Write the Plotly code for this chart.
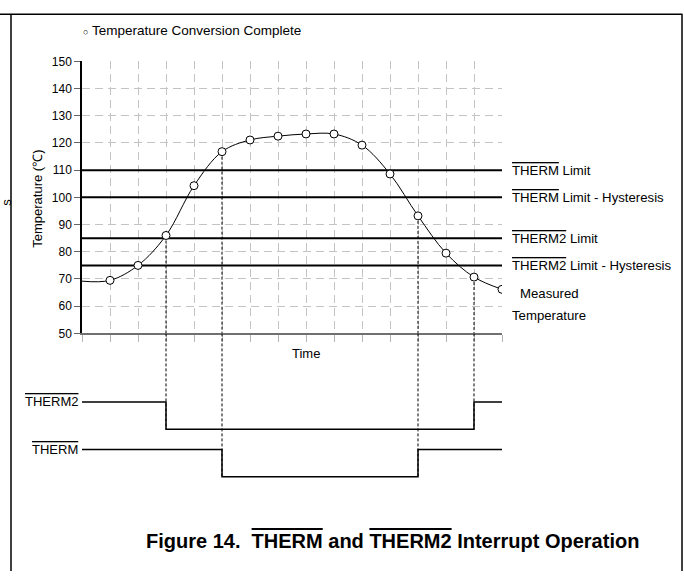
import plotly.graph_objects as go

# ---------------- data ----------------
time = list(range(16))
temperature = [69.2, 69.5, 75.0, 86.0, 104.3, 116.8, 121.1, 122.5, 123.3,
               123.3, 119.2, 108.6, 93.2, 79.5, 70.7, 66.2]
conversion_time = time[1:]
conversion_temp = temperature[1:]

limit_names = ["THERM Limit", "THERM Limit - Hysteresis",
               "THERM2 Limit", "THERM2 Limit - Hysteresis"]
limit_values = [110, 100, 85, 75]

therm2_time = [0, 3, 14, 15]
therm2_state = [1, 0, 1, 1]
therm_time = [0, 5, 12, 15]
therm_state = [1, 0, 1, 1]

y_ticks = list(range(50, 151, 10))

# ---------------- layout helpers ----------------
W, H = 684, 578
def px(x):
    return x / W
def py(y):
    return 1 - y / H

FONT = "Liberation Sans, Arial, sans-serif"
OL = '<span style="text-decoration:overline">{}</span>'

THERM2_OFFSET = 1.743   # signal baseline offsets on the signal axis
THERM_OFFSET = 0.0
SIG_TOP = 5.25

fig = go.Figure()

# limit lines
for v in limit_values:
    fig.add_trace(go.Scatter(x=[time[0], time[-1]], y=[v, v], mode="lines",
                             line=dict(color="black", width=2),
                             showlegend=False, hoverinfo="skip",
                             xaxis="x", yaxis="y"))

# dashed drop lines at the transitions
drops = [(t, THERM2_OFFSET) for t in therm2_time[1:3]] + \
        [(t, THERM_OFFSET) for t in therm_time[1:3]]
for t, low in drops:
    tv = temperature[time.index(t)]
    fig.add_trace(go.Scatter(x=[t, t], y=[tv, y_ticks[0]], mode="lines",
                             line=dict(color="black", width=1, dash="3px,2px"),
                             showlegend=False, hoverinfo="skip",
                             xaxis="x", yaxis="y"))
    fig.add_trace(go.Scatter(x=[t, t], y=[SIG_TOP, low], mode="lines",
                             line=dict(color="black", width=1, dash="3px,2px"),
                             showlegend=False, hoverinfo="skip",
                             xaxis="x2", yaxis="y2"))

# measured temperature curve
fig.add_trace(go.Scatter(x=time, y=temperature, mode="lines",
                         line=dict(color="black", width=1, shape="spline"),
                         showlegend=False, hoverinfo="skip",
                         xaxis="x", yaxis="y"))
fig.add_trace(go.Scatter(x=conversion_time, y=conversion_temp, mode="markers",
                         marker=dict(size=8, color="white",
                                     line=dict(color="black", width=1)),
                         showlegend=False, xaxis="x", yaxis="y"))

# digital signals
fig.add_trace(go.Scatter(x=therm2_time, y=[s + THERM2_OFFSET for s in therm2_state],
                         mode="lines", line=dict(color="black", width=1.5, shape="hv"),
                         showlegend=False, hoverinfo="skip", xaxis="x2", yaxis="y2"))
fig.add_trace(go.Scatter(x=therm_time, y=[s + THERM_OFFSET for s in therm_state],
                         mode="lines", line=dict(color="black", width=1.5, shape="hv"),
                         showlegend=False, hoverinfo="skip", xaxis="x2", yaxis="y2"))

annotations = []
# right side labels
for name, v in zip(limit_names, limit_values):
    sig, rest = name.split(" ", 1)
    annotations.append(dict(x=time[-1], y=v, xref="x", yref="y", xanchor="left",
                            yanchor="middle", xshift=8, showarrow=False,
                            text=OL.format(sig) + " " + rest,
                            font=dict(size=13.2)))
annotations.append(dict(x=time[-1], y=64.8, xref="x", yref="y", xanchor="left",
                        yanchor="middle", xshift=16, showarrow=False,
                        text="Measured", font=dict(size=13.2)))
annotations.append(dict(x=time[-1], y=56.4, xref="x", yref="y", xanchor="left",
                        yanchor="middle", xshift=8, showarrow=False,
                        text="Temperature", font=dict(size=13.2)))
# signal labels
annotations.append(dict(x=px(80), y=1 + THERM2_OFFSET, xref="paper", yref="y2",
                        xanchor="right", yanchor="middle", showarrow=False,
                        text=OL.format("THERM2"), font=dict(size=13)))
annotations.append(dict(x=px(80), y=1 + THERM_OFFSET, xref="paper", yref="y2",
                        xanchor="right", yanchor="middle", showarrow=False,
                        text=OL.format("THERM"), font=dict(size=13)))
# axis labels
annotations.append(dict(x=8, y=py(355), xref="x", yref="paper", showarrow=False,
                        text="Time", font=dict(size=13)))
annotations.append(dict(x=px(28), y=py(197), xref="paper", yref="paper",
                        showarrow=False, textangle=-90,
                        text="Temperature (℃)", font=dict(size=13)))
annotations.append(dict(x=px(-3), y=py(200), xref="paper", yref="paper",
                        showarrow=False, textangle=-90,
                        text="s", font=dict(size=13)))
# legend-like note
annotations.append(dict(x=px(81), y=py(24), xref="paper", yref="paper",
                        xanchor="left", yanchor="middle", showarrow=False,
                        text='<span style="font-size:9px">○</span> Temperature Conversion Complete',
                        font=dict(size=13.5)))
# caption
annotations.append(dict(x=px(392), y=py(547), xref="paper", yref="paper",
                        xanchor="center", yanchor="middle", showarrow=False,
                        text="<b>Figure 14.\u00a0 " + OL.format("THERM") + " and " +
                             OL.format("THERM2") + " Interrupt Operation</b>",
                        font=dict(size=20)))

shapes = [
    dict(type="line", xref="paper", yref="paper", x0=0, x1=px(682.5),
         y0=py(7.5), y1=py(7.5), line=dict(color="black", width=1.5)),
    dict(type="line", xref="paper", yref="paper", x0=px(11), x1=px(11),
         y0=py(7.5), y1=0, line=dict(color="black", width=1.5)),
    dict(type="line", xref="paper", yref="paper", x0=px(682), x1=px(682),
         y0=py(7.5), y1=0, line=dict(color="black", width=1.5)),
]

fig.update_layout(
    width=W, height=H,
    margin=dict(l=0, r=0, t=0, b=0),
    paper_bgcolor="white", plot_bgcolor="white",
    font=dict(family=FONT, size=13, color="black"),
    showlegend=False,
    xaxis=dict(domain=[px(82), px(502)], range=[0, 15], tick0=0, dtick=1,
               showticklabels=False, ticks="outside", ticklen=7,
               tickcolor="#b4b4b4", tickwidth=1,
               showgrid=True, gridcolor="#c4c4c4", griddash="8px,5px", gridwidth=1,
               showline=True, linecolor="#707070", linewidth=1.5,
               zeroline=False, anchor="y", fixedrange=True),
    yaxis=dict(domain=[py(334.5), py(55.7)], range=[50, 150], tickvals=y_ticks,
               ticks="outside", ticklen=6, tickcolor="#666666",
               tickfont=dict(size=12, color="black"),
               showgrid=True, gridcolor="#c4c4c4", griddash="8px,5px", gridwidth=1,
               showline=True, linecolor="black", linewidth=1.5,
               zeroline=False, anchor="x", fixedrange=True),
    xaxis2=dict(domain=[px(82), px(502)], range=[0, 15], visible=False,
                anchor="y2", fixedrange=True),
    yaxis2=dict(domain=[0, py(334.5)], range=[-3.446, SIG_TOP], visible=False,
                anchor="x2", fixedrange=True),
    annotations=annotations,
    shapes=shapes,
)

fig.write_html("out.html", config={"displayModeBar": False},
               post_script="document.body.style.margin='0';"
                           "document.body.style.overflow='hidden';")
